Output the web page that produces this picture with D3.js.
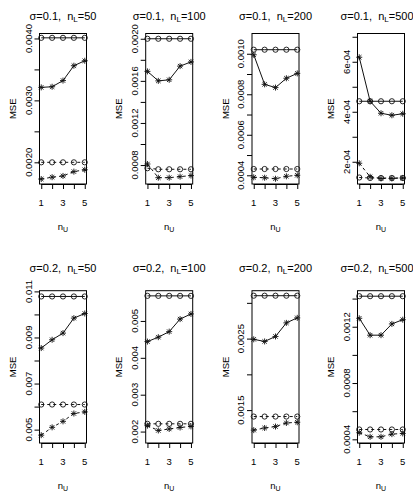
<!DOCTYPE html>
<html>
<head>
<meta charset="utf-8">
<script src="https://cdn.jsdelivr.net/npm/d3@7"></script>
<style>
  body { margin: 0; background: #fff; }
  text { font-family: "Liberation Sans", Arial, sans-serif; fill: #000; }
  .title { white-space: pre; }
</style>
</head>
<body>
<div class="chart"></div>
<script>
// n_U values on the x axis
const nU = [1, 2, 3, 4, 5];
const xLabelTicks = [1, 3, 5];

// one entry per panel (row by row)
const panelSigma = ["0.1", "0.1", "0.1", "0.1", "0.2", "0.2", "0.2", "0.2"];
const panelNL = [50, 100, 200, 500, 50, 100, 200, 500];

// upper pair (solid lines)
const upperCircle = [
  [0.00401, 0.00401, 0.00401, 0.00401, 0.00401],
  [0.00200, 0.00200, 0.00200, 0.00200, 0.00200],
  [0.00102, 0.00102, 0.00102, 0.00102, 0.00102],
  [0.000442, 0.000442, 0.000442, 0.000442, 0.000442],
  [0.01078, 0.01078, 0.01078, 0.01078, 0.01078],
  [0.00568, 0.00568, 0.00568, 0.00568, 0.00568],
  [0.00310, 0.00310, 0.00310, 0.00310, 0.00310],
  [0.001417, 0.001417, 0.001417, 0.001417, 0.001417]
];
const upperStar = [
  [0.00321, 0.00322, 0.00332, 0.00356, 0.00364],
  [0.00169, 0.00160, 0.00161, 0.00174, 0.00178],
  [0.000995, 0.000849, 0.000833, 0.000879, 0.000903],
  [0.000618, 0.000442, 0.000394, 0.000386, 0.000392],
  [0.00854, 0.00890, 0.00919, 0.00984, 0.01004],
  [0.00444, 0.00456, 0.00471, 0.00505, 0.00519],
  [0.00249, 0.00246, 0.00253, 0.00272, 0.00279],
  [0.00126, 0.00114, 0.00114, 0.00122, 0.00125]
];

// lower pair (dashed lines)
const lowerCircle = [
  [0.00200, 0.00200, 0.00200, 0.00200, 0.00200],
  [0.00077, 0.00076, 0.00076, 0.00076, 0.00076],
  [0.000431, 0.000431, 0.000431, 0.000431, 0.000431],
  [0.000137, 0.000135, 0.000135, 0.000135, 0.000135],
  [0.00609, 0.00609, 0.00609, 0.00609, 0.00609],
  [0.00221, 0.00221, 0.00221, 0.00221, 0.00221],
  [0.00141, 0.00141, 0.00141, 0.00141, 0.00141],
  [0.00047, 0.00047, 0.00047, 0.00047, 0.00047]
];
const lowerStar = [
  [0.00173, 0.00176, 0.00178, 0.00185, 0.00188],
  [0.00081, 0.00068, 0.00068, 0.00069, 0.00070],
  [0.000390, 0.000388, 0.000383, 0.000395, 0.000400],
  [0.000194, 0.000140, 0.000133, 0.000133, 0.000135],
  [0.00476, 0.00510, 0.00536, 0.00570, 0.00577],
  [0.00216, 0.00203, 0.00207, 0.00211, 0.00214],
  [0.00122, 0.00125, 0.00127, 0.00132, 0.00133],
  [0.000447, 0.000418, 0.000418, 0.000437, 0.000442]
];

// y limits and ticks
const yLimits = [
  [0.00165, 0.00408],
  [0.00062, 0.00205],
  [0.000357, 0.0011],
  [0.000111, 0.000713],
  [0.00442, 0.01103],
  [0.00169, 0.00582],
  [0.00104, 0.00317],
  [0.000374, 0.001456]
];
const yTicks = [
  [0.002, 0.0025, 0.003, 0.0035, 0.004],
  [0.0008, 0.001, 0.0012, 0.0014, 0.0016, 0.0018, 0.002],
  [0.0004, 0.0005, 0.0006, 0.0007, 0.0008, 0.0009, 0.001],
  [0.0002, 0.0003, 0.0004, 0.0005, 0.0006, 0.0007],
  [0.005, 0.006, 0.007, 0.008, 0.009, 0.01, 0.011],
  [0.002, 0.003, 0.004, 0.005],
  [0.0015, 0.002, 0.0025, 0.003],
  [0.0004, 0.0006, 0.0008, 0.001, 0.0012, 0.0014]
];
const yLabelTicks = [
  [0.002, 0.003, 0.004],
  [0.0008, 0.0012, 0.0016, 0.002],
  [0.0004, 0.0006, 0.0008, 0.001],
  [0.0002, 0.0004, 0.0006],
  [0.005, 0.007, 0.009, 0.011],
  [0.002, 0.003, 0.004, 0.005],
  [0.0015, 0.0025],
  [0.0004, 0.0008, 0.0012]
];
const yTickLabels = [
  ["0.0020", "0.0030", "0.0040"],
  ["0.0008", "0.0012", "0.0016", "0.0020"],
  ["0.0004", "0.0006", "0.0008", "0.0010"],
  ["2e-04", "4e-04", "6e-04"],
  ["0.005", "0.007", "0.009", "0.011"],
  ["0.002", "0.003", "0.004", "0.005"],
  ["0.0015", "0.0025"],
  ["0.0004", "0.0008", "0.0012"]
];

document.addEventListener("DOMContentLoaded", function () {
  const w = 413;
  const h = 496;
  const boxW = 47;
  const colLeft = [39.5, 145.7, 252, 357.5];
  const rowTop = [33.5, 290.7];
  const rowH = [150.5, 152.3];
  const titleY = [19.5, 271.5];

  const svg = d3
    .select(".chart")
    .append("svg")
    .attr("width", w)
    .attr("height", h);

  // pch 8 (asterisk) as a path
  function starPath(x, y) {
    const a = 3;
    const b = 2.2;
    return (
      "M" + (x - a) + "," + y + "L" + (x + a) + "," + y +
      "M" + x + "," + (y - a) + "L" + x + "," + (y + a) +
      "M" + (x - b) + "," + (y - b) + "L" + (x + b) + "," + (y + b) +
      "M" + (x - b) + "," + (y + b) + "L" + (x + b) + "," + (y - b)
    );
  }

  panelNL.forEach(function (nl, i) {
    const row = Math.floor(i / 4);
    const col = i % 4;
    const left = colLeft[col];
    const top = rowTop[row];
    const ph = rowH[row];

    // R style 4% padding on x
    const pad = (d3.max(nU) - d3.min(nU)) * 0.04;
    const xScale = d3
      .scaleLinear()
      .domain([d3.min(nU) - pad, d3.max(nU) + pad])
      .range([left, left + boxW]);

    const yScale = d3
      .scaleLinear()
      .domain(yLimits[i])
      .range([top + ph, top]);

    const g = svg.append("g").attr("class", "panel");

    // title (last one runs off the right edge, as in the original)
    const title = g
      .append("text")
      .attr("class", "title")
      .attr("x", col === 3 ? left + boxW / 2 - 4 : left + boxW / 2)
      .attr("y", titleY[row])
      .attr("text-anchor", "middle")
      .style("font-size", "11px");
    title.append("tspan").text("\u03c3=" + panelSigma[i] + ",  n");
    title
      .append("tspan")
      .attr("dy", 2.5)
      .style("font-size", "8px")
      .text("L");
    title
      .append("tspan")
      .attr("dy", -2.5)
      .text("=" + nl);

    // x axis
    const xAxis = d3
      .axisBottom(xScale)
      .tickValues(nU)
      .tickSize(5)
      .tickFormat("");
    g.append("g")
      .attr("transform", "translate(0," + (top + ph) + ")")
      .call(xAxis)
      .call(function (a) {
        a.select(".domain").attr("d", "M" + xScale(1) + ",0.5H" + xScale(5));
        a.selectAll("line").attr("stroke", "#000");
      });
    g.selectAll(".xlab")
      .data(xLabelTicks)
      .enter()
      .append("text")
      .attr("x", function (d) {
        return xScale(d);
      })
      .attr("y", top + ph + 22)
      .attr("text-anchor", "middle")
      .style("font-size", "9.5px")
      .text(function (d) {
        return d;
      });

    // x label n_U
    const xl = g
      .append("text")
      .attr("x", left + boxW / 2)
      .attr("y", top + ph + 45.5)
      .attr("text-anchor", "middle")
      .style("font-size", "9.5px");
    xl.append("tspan").text("n");
    xl.append("tspan").attr("dy", 2.5).style("font-size", "7px").text("U");

    // y axis
    const yAxis = d3
      .axisLeft(yScale)
      .tickValues(yTicks[i])
      .tickSize(5)
      .tickFormat("");
    g.append("g")
      .attr("transform", "translate(" + left + ",0)")
      .call(yAxis)
      .call(function (a) {
        a.select(".domain").remove();
        a.selectAll("line").attr("stroke", "#000");
      });
    g.selectAll(".ylab")
      .data(yLabelTicks[i])
      .enter()
      .append("text")
      .attr("transform", function (d) {
        return "translate(" + (left - 11.5) + "," + yScale(d) + ") rotate(-90)";
      })
      .attr("text-anchor", "middle")
      .attr("dominant-baseline", "central")
      .style("font-size", "9.5px")
      .text(function (d, k) {
        return yTickLabels[i][k];
      });

    g.append("text")
      .attr("transform", "translate(" + (left - 27) + "," + (top + ph / 2) + ") rotate(-90)")
      .attr("text-anchor", "middle")
      .attr("dominant-baseline", "central")
      .style("font-size", "9.5px")
      .text("MSE");

    // plot box
    g.append("rect")
      .attr("x", left)
      .attr("y", top)
      .attr("width", boxW)
      .attr("height", ph)
      .attr("fill", "none")
      .attr("stroke", "#000");

    const line = d3
      .line()
      .x(function (d, k) {
        return xScale(nU[k]);
      })
      .y(function (d) {
        return yScale(d);
      });

    const series = [
      { values: upperCircle[i], dash: null, shape: "circle" },
      { values: upperStar[i], dash: null, shape: "star" },
      { values: lowerCircle[i], dash: "3,3", shape: "circle" },
      { values: lowerStar[i], dash: "3,3", shape: "star" }
    ];

    series.forEach(function (s) {
      g.append("path")
        .datum(s.values)
        .attr("d", line)
        .attr("fill", "none")
        .attr("stroke", "#111")
        .attr("stroke-width", 1)
        .attr("stroke-dasharray", s.dash);

      if (s.shape === "circle") {
        g.selectAll(".pt")
          .data(s.values)
          .enter()
          .append("circle")
          .attr("cx", function (d, k) {
            return xScale(nU[k]);
          })
          .attr("cy", function (d) {
            return yScale(d);
          })
          .attr("r", 2.6)
          .attr("fill", "none")
          .attr("stroke", "#111")
          .attr("stroke-width", 0.9);
      } else {
        g.selectAll(".pt")
          .data(s.values)
          .enter()
          .append("path")
          .attr("d", function (d, k) {
            return starPath(xScale(nU[k]), yScale(d));
          })
          .attr("fill", "none")
          .attr("stroke", "#111")
          .attr("stroke-width", 0.9);
      }
    });
  });
});
</script>
</body>
</html>
